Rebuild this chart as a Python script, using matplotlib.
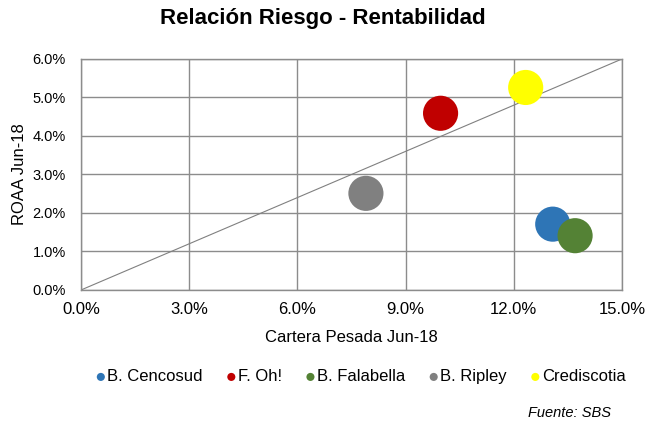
import matplotlib.pyplot as plt
from matplotlib.ticker import PercentFormatter

plt.rcParams['font.family'] = ['Liberation Sans', 'DejaVu Sans']

# datos (en %)
bancos = ['B. Cencosud', 'F. Oh!', 'B. Falabella', 'B. Ripley', 'Crediscotia']
cartera_pesada = [13.08, 9.97, 13.70, 7.90, 12.33]
roaa = [1.71, 4.59, 1.41, 2.51, 5.26]
colores = ['#2E75B6', '#C00000', '#548235', '#808080', '#FFFF00']

x_ticks = [0, 3, 6, 9, 12, 15]
y_ticks = [0, 1, 2, 3, 4, 5, 6]

fig = plt.figure(figsize=(6.45, 4.21), dpi=100)
ax = fig.add_axes([0.1256, 0.3112, 0.8387, 0.5487])

# linea de referencia
ax.plot([0, 15], [0, 6], color='#808080', linewidth=0.8, zorder=2)

for nombre, x, y, c in zip(bancos, cartera_pesada, roaa, colores):
    ax.scatter(x, y, s=640, color=c, edgecolors='none', label=nombre, zorder=3)

ax.set_xlim(0, 15)
ax.set_ylim(0, 6)
ax.set_xticks(x_ticks)
ax.set_yticks(y_ticks)
ax.xaxis.set_major_formatter(PercentFormatter(decimals=1))
ax.yaxis.set_major_formatter(PercentFormatter(decimals=1))
ax.tick_params(axis='x', length=0, labelsize=12, colors='#000000', pad=9)
ax.tick_params(axis='y', length=0, labelsize=10.5, colors='#000000', pad=11)
ax.grid(True, color='#8C8C8C', linewidth=1)
ax.set_axisbelow(True)
for sp in ax.spines.values():
    sp.set_color('#8C8C8C')
    sp.set_linewidth(1)

ax.set_xlabel('Cartera Pesada Jun-18', fontsize=12, labelpad=9)
ax.set_ylabel('ROAA Jun-18', fontsize=12, labelpad=4)
fig.text(0.5, 0.957, 'Relación Riesgo - Rentabilidad', ha='center', va='center',
         fontsize=16, fontweight='bold')

leg = fig.legend(loc='center', bbox_to_anchor=(0.56, 0.105), ncol=5, frameon=False,
                 fontsize=12, handlelength=0.5, handletextpad=0.15,
                 columnspacing=1.45, markerscale=0.23)

fig.text(0.948, 0.019, 'Fuente: SBS', ha='right', va='center', fontsize=10.5, style='italic')

fig.savefig('out.png', dpi=100)
